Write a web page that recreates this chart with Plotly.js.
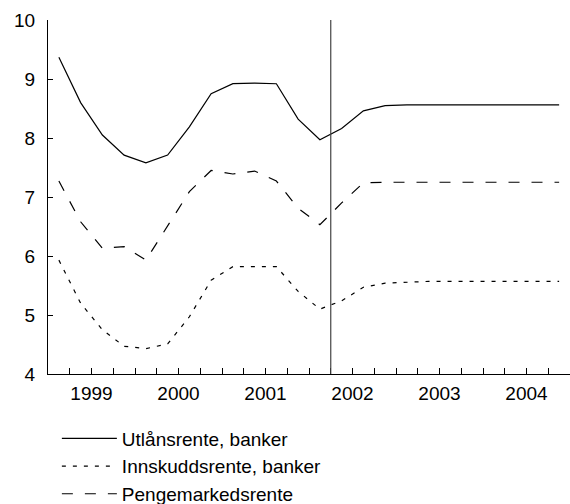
<!DOCTYPE html>
<html>
<head>
<meta charset="utf-8">
<script src="https://cdn.plot.ly/plotly-3.0.1.min.js"></script>
<style>
html, body { margin: 0; padding: 0; background: #fff; }
#chart { width: 570px; height: 504px; }
</style>
</head>
<body>
<div id="chart"></div>
<script>
// Quarters 1999K1 .. 2004K4
const quarters = [
  "1999K1","1999K2","1999K3","1999K4",
  "2000K1","2000K2","2000K3","2000K4",
  "2001K1","2001K2","2001K3","2001K4",
  "2002K1","2002K2","2002K3","2002K4",
  "2003K1","2003K2","2003K3","2003K4",
  "2004K1","2004K2","2004K3","2004K4"
];
const utlansrente = [9.37, 8.60, 8.05, 7.71, 7.58, 7.71, 8.19, 8.75, 8.92, 8.93, 8.92, 8.32,
                     7.97, 8.16, 8.46, 8.55, 8.56, 8.56, 8.56, 8.56, 8.56, 8.56, 8.56, 8.56];
const innskuddsrente = [5.93, 5.20, 4.75, 4.47, 4.43, 4.51, 4.97, 5.59, 5.82, 5.82, 5.82, 5.40,
                        5.10, 5.24, 5.47, 5.54, 5.56, 5.57, 5.57, 5.57, 5.57, 5.57, 5.57, 5.57];
const pengemarkedsrente = [7.27, 6.58, 6.13, 6.16, 5.93, 6.52, 7.09, 7.45, 7.39, 7.44, 7.27, 6.81,
                           6.53, 6.90, 7.24, 7.25, 7.25, 7.25, 7.25, 7.25, 7.25, 7.25, 7.25, 7.25];
const years = ["1999","2000","2001","2002","2003","2004"];
const yTicks = [4, 5, 6, 7, 8, 9, 10];
const seriesNames = ["Utlånsrente, banker", "Innskuddsrente, banker", "Pengemarkedsrente"];
const forecastStart = "2002K1"; // vertical line after this quarter

// quarter label -> position on a continuous time axis (middle of the quarter)
function qpos(q) {
  const y = parseInt(q.slice(0, 4), 10);
  const k = parseInt(q.slice(5), 10);
  return y + (k - 0.5) / 4;
}
const xq = quarters.map(qpos);
const yearStart = parseInt(years[0], 10);
const yearEnd = parseInt(years[years.length - 1], 10) + 1;
const yearBounds = [];
for (let y = yearStart; y <= yearEnd; y++) yearBounds.push(y);
const yearMids = years.map(y => parseInt(y, 10) + 0.5);
const vlineX = qpos(forecastStart) + 0.125;

const FONT = "Liberation Sans, Arial, sans-serif";
const FS = 19;
const lineBase = { color: "#000", width: 1.2 };

const traces = [
  { x: xq, y: utlansrente, name: seriesNames[0], type: "scatter", mode: "lines",
    line: Object.assign({}, lineBase, { dash: "solid" }) },
  { x: xq, y: innskuddsrente, name: seriesNames[1], type: "scatter", mode: "lines",
    line: Object.assign({}, lineBase, { dash: "4px,7px" }) },
  { x: xq, y: pengemarkedsrente, name: seriesNames[2], type: "scatter", mode: "lines",
    line: Object.assign({}, lineBase, { dash: "11px,12px" }) },
  // invisible trace to activate the year-label axis
  { x: yearMids, y: yearMids.map(() => null), xaxis: "x2", type: "scatter", mode: "lines",
    showlegend: false, hoverinfo: "skip" }
];

const layout = {
  width: 570, height: 504,
  margin: { l: 48, r: 0, t: 20, b: 130, autoexpand: false },
  paper_bgcolor: "#fff", plot_bgcolor: "#fff",
  font: { family: FONT, size: FS, color: "#000" },
  showlegend: true,
  legend: {
    x: 0.017, xanchor: "left", y: -0.1285, yanchor: "top",
    orientation: "v", font: { family: FONT, size: FS, color: "#000" },
    itemwidth: 55, tracegroupgap: 0, bgcolor: "rgba(0,0,0,0)"
  },
  xaxis: {
    range: [yearStart, yearEnd],
    showline: true, linecolor: "#000", linewidth: 1,
    showgrid: false, zeroline: false,
    tickmode: "array", tickvals: yearBounds, ticktext: yearBounds.map(() => ""),
    ticks: "inside", ticklen: 10, tickwidth: 1, tickcolor: "#000",
    showticklabels: false,
    minor: { tick0: yearStart, dtick: 0.25, ticks: "inside", ticklen: 6, tickwidth: 1, tickcolor: "#000", showgrid: false }
  },
  xaxis2: {
    overlaying: "x", anchor: "y", side: "bottom",
    range: [yearStart, yearEnd],
    showline: false, showgrid: false, zeroline: false,
    tickmode: "array", tickvals: yearMids, ticktext: years,
    ticks: "", tickfont: { family: FONT, size: FS, color: "#000" },
    ticklabelstandoff: 6
  },
  yaxis: {
    range: [4, 10],
    showline: true, linecolor: "#000", linewidth: 1,
    showgrid: false, zeroline: false,
    tickmode: "array", tickvals: yTicks,
    ticks: "inside", ticklen: 5, tickwidth: 1, tickcolor: "#000",
    tickfont: { family: FONT, size: FS, color: "#000" },
    ticklabelstandoff: 8
  },
  shapes: [
    { type: "line", xref: "x", yref: "paper", x0: vlineX, x1: vlineX, y0: 0, y1: 1,
      line: { color: "#444", width: 1.2 } }
  ]
};

Plotly.newPlot("chart", traces, layout, { displayModeBar: false, staticPlot: true });
</script>
</body>
</html>
